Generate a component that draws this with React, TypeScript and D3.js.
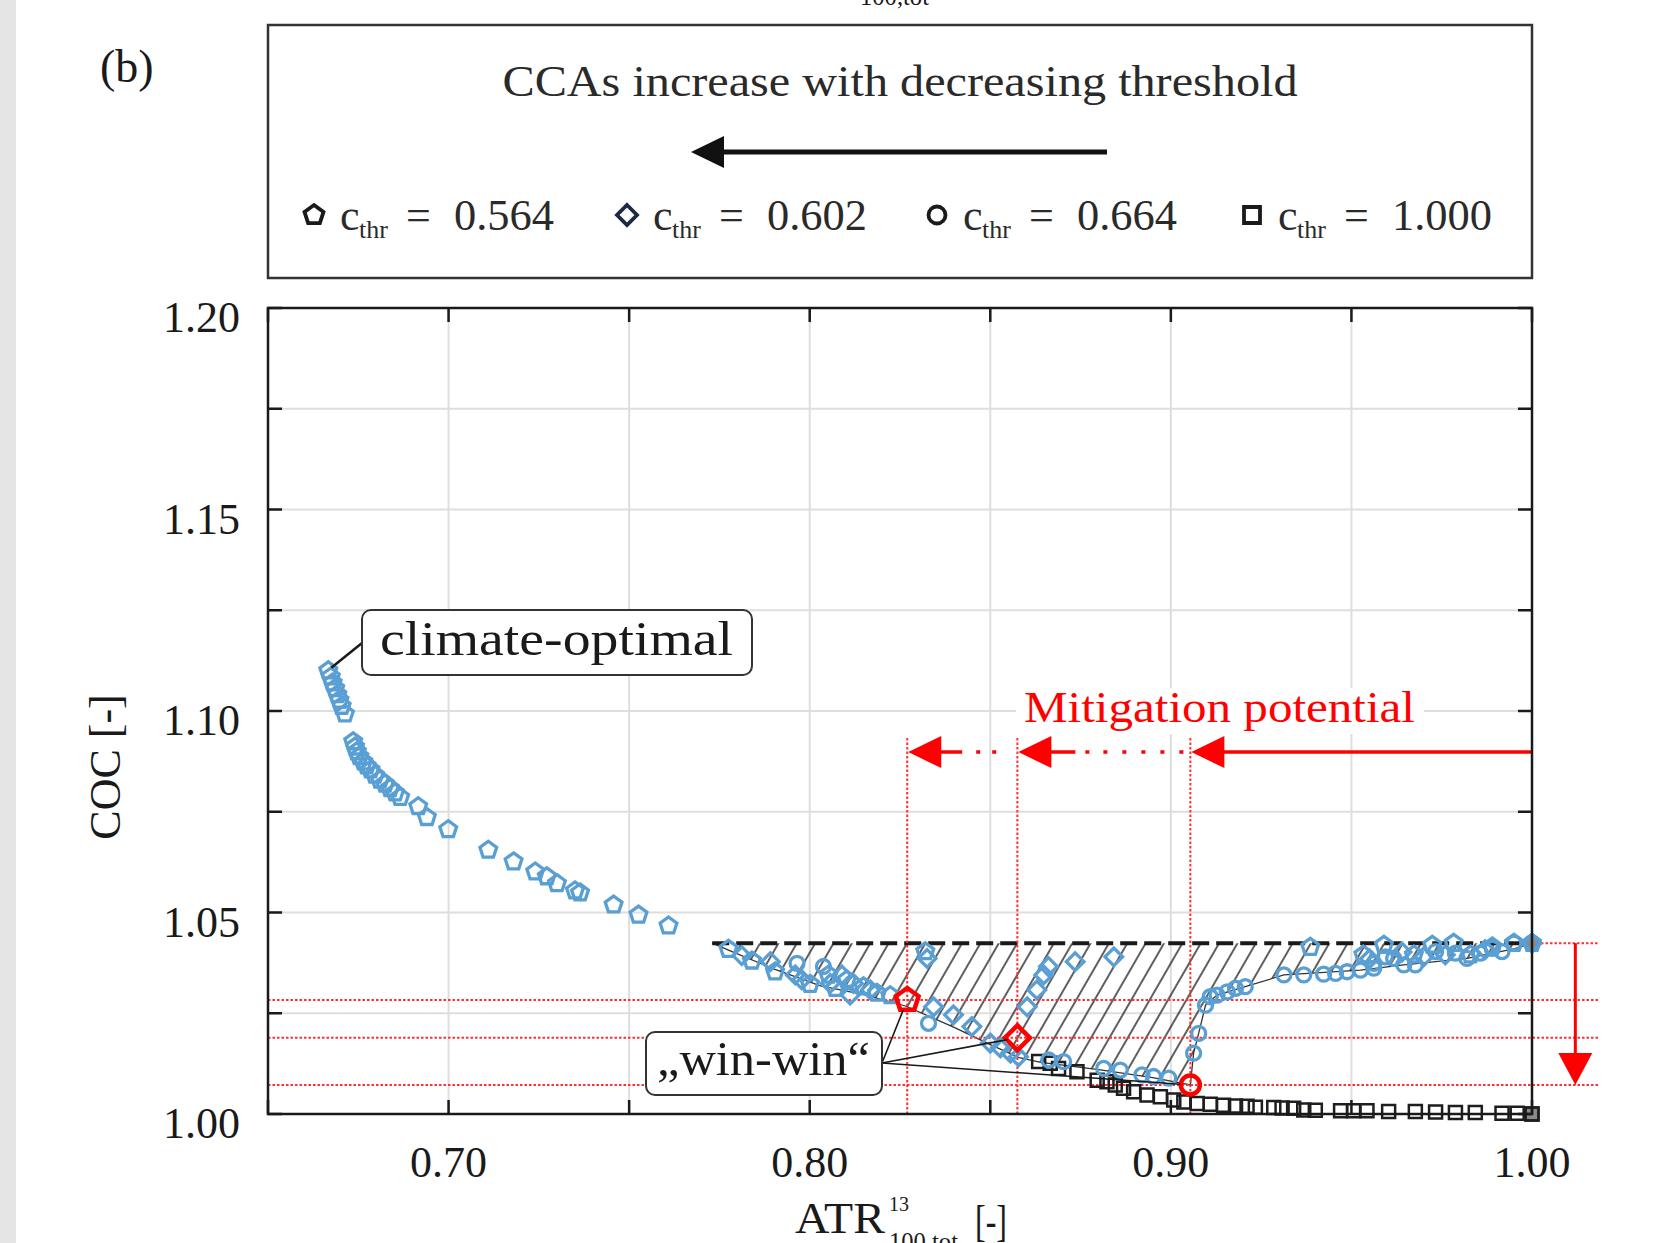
import React from "react";
import * as d3 from "d3";

// ---------------- data ----------------
const X_DOMAIN: [number, number] = [0.65, 1.0];
const Y_DOMAIN: [number, number] = [1.0, 1.2];
const X_TICKS = [0.65, 0.7, 0.75, 0.8, 0.85, 0.9, 0.95, 1.0];
const X_TICK_LABELS = [0.7, 0.8, 0.9, 1.0];
const Y_TICKS = [1.0, 1.025, 1.05, 1.075, 1.1, 1.125, 1.15, 1.175, 1.2];
const Y_TICK_LABELS = [1.0, 1.05, 1.1, 1.15, 1.2];

const LEGEND_SHAPES = ["pentagon", "diamond", "circle", "square"];
const LEGEND_VALUES = ["0.564", "0.602", "0.664", "1.000"];

// c_thr = 0.564
const PENTAGONS: [number, number][] = [
  [0.6667, 1.11], [0.6674, 1.1085], [0.6679, 1.107], [0.6686, 1.1056], [0.6692, 1.1041],
  [0.6698, 1.1027], [0.6704, 1.1012], [0.6713, 1.0993],
  [0.6736, 1.0924], [0.6741, 1.0911], [0.6746, 1.0899], [0.6753, 1.0887], [0.6764, 1.0874],
  [0.6773, 1.0864], [0.6784, 1.0854], [0.6796, 1.0841], [0.681, 1.0829], [0.6824, 1.0819],
  [0.6838, 1.0808], [0.6852, 1.0797], [0.6866, 1.0786],
  [0.6916, 1.0763], [0.694, 1.0736], [0.6999, 1.0706], [0.711, 1.0655], [0.718, 1.0626],
  [0.724, 1.0601], [0.7272, 1.0589], [0.73, 1.0572], [0.735, 1.0554], [0.7364, 1.0549],
  [0.7457, 1.0519], [0.7526, 1.0494], [0.7609, 1.0467],
  [0.7775, 1.0409], [0.784, 1.038], [0.7904, 1.0353], [0.8001, 1.0322], [0.8052, 1.0345],
  [0.8071, 1.0312], [0.8103, 1.0333], [0.8149, 1.0316], [0.8186, 1.03], [0.8223, 1.0294],
  [0.832, 1.0403],
  [0.9386, 1.0414], [0.9533, 1.0395], [0.959, 1.0419], [0.9673, 1.0395], [0.9724, 1.0419],
  [0.9783, 1.0424], [0.983, 1.0395], [0.989, 1.0415], [0.995, 1.0424], [1.0, 1.0424],
];

// c_thr = 0.602
const DIAMONDS: [number, number][] = [
  [0.7812, 1.0393], [0.7891, 1.0378], [0.796, 1.0345], [0.7978, 1.0333], [0.8057, 1.0324],
  [0.8089, 1.0345], [0.8112, 1.0295], [0.8121, 1.0324], [0.8168, 1.0308], [0.8325, 1.0386],
  [0.8343, 1.0266], [0.8398, 1.0246], [0.8449, 1.0217], [0.85, 1.0176], [0.8528, 1.0164],
  [0.8556, 1.0151], [0.8578, 1.0142],
  [0.8602, 1.0266], [0.8629, 1.0308], [0.8648, 1.0345], [0.8661, 1.0366], [0.8735, 1.0378],
  [0.8842, 1.039],
  [0.955, 1.0385], [0.964, 1.0402], [0.97, 1.039], [0.976, 1.0395], [0.987, 1.0408], [1.0, 1.0424],
];

// c_thr = 0.664
const CIRCLES: [number, number][] = [
  [0.7965, 1.0374], [0.8038, 1.0366], [0.8329, 1.0225],
  [0.8662, 1.0134], [0.8703, 1.013], [0.8814, 1.0113], [0.886, 1.0109], [0.892, 1.0097],
  [0.8952, 1.0093], [0.8994, 1.0089],
  [0.9063, 1.0151], [0.9077, 1.02], [0.9096, 1.027], [0.9109, 1.0291], [0.9128, 1.0295],
  [0.9156, 1.0303], [0.9179, 1.0312], [0.9206, 1.0316],
  [0.9313, 1.0345], [0.9368, 1.0345], [0.9423, 1.0347], [0.9456, 1.0349], [0.9488, 1.0353],
  [0.9525, 1.0357], [0.9562, 1.0374], [0.9562, 1.0362], [0.9594, 1.039], [0.9617, 1.0386],
  [0.9645, 1.037], [0.9677, 1.037], [0.9733, 1.0403], [0.9788, 1.0399], [0.982, 1.0386],
  [0.9857, 1.0399], [0.989, 1.0411], [0.9917, 1.0403], [0.995, 1.0424], [1.0, 1.0424],
];

// c_thr = 1.000
const SQUARES: [number, number][] = [
  [0.8634, 1.013], [0.8666, 1.0126], [0.8689, 1.0113], [0.874, 1.0105], [0.8796, 1.0084],
  [0.8823, 1.008], [0.8846, 1.0072], [0.8869, 1.0064], [0.8897, 1.0055], [0.8934, 1.0047],
  [0.8971, 1.0043], [0.9008, 1.0035], [0.9036, 1.003], [0.9073, 1.0026], [0.9109, 1.0024],
  [0.9146, 1.0022], [0.9179, 1.002], [0.9211, 1.0019], [0.9234, 1.0017], [0.9285, 1.0016],
  [0.9308, 1.0015], [0.934, 1.0014], [0.9368, 1.001], [0.94, 1.0009], [0.947, 1.0008],
  [0.9506, 1.0008], [0.9543, 1.0008], [0.9603, 1.0006], [0.9677, 1.0006], [0.9733, 1.0005],
  [0.9788, 1.0004], [0.9843, 1.0004], [0.9917, 1.0002], [0.9959, 1.0002], [1.0, 1.0],
];

// "win-win" points
const WIN_PENTAGON: [number, number] = [0.827, 1.0283];
const WIN_DIAMOND: [number, number] = [0.8575, 1.0189];
const WIN_CIRCLE: [number, number] = [0.9054, 1.0072];

const REFERENCE_COC = 1.0424;
const MITIGATION_ARROW_COC = 1.0898;
const DOWN_ARROW_ATR = 1.012;

// lower boundary of the hatched region
const HATCH_LOWER: [number, number][] = [
  [0.773, 1.0424], [0.778, 1.0405], [0.79, 1.036], [0.803, 1.0318], [0.815, 1.0296],
  [0.8265, 1.0268], [0.84, 1.0215], [0.85, 1.0172], [0.858, 1.014], [0.864, 1.0128],
  [0.88, 1.011], [0.895, 1.009], [0.9054, 1.0072], [0.9063, 1.0151], [0.9077, 1.02],
  [0.9096, 1.027], [0.9128, 1.0295], [0.9206, 1.0316], [0.9313, 1.0345], [0.9525, 1.0357],
  [0.9645, 1.037], [0.982, 1.0386], [0.995, 1.041], [1.0, 1.0424],
];

// ---------------- helpers ----------------
const FONT = "'Liberation Serif', 'DejaVu Serif', serif";
const BLUE = "#5a9fd4";
const RED = "#ff0000";
const DARK = "#1e1e1e";

function pentagonPath(r: number) {
  const pts = d3.range(5).map((k) => {
    const a = (-90 + 72 * k) * (Math.PI / 180);
    return [r * Math.cos(a), r * Math.sin(a)];
  });
  return "M" + pts.map((p) => p[0].toFixed(2) + "," + p[1].toFixed(2)).join("L") + "Z";
}
function diamondPath(r: number) {
  return `M0,${-r}L${r},0L0,${r}L${-r},0Z`;
}
function squarePath(r: number) {
  return `M${-r},${-r}L${r},${-r}L${r},${r}L${-r},${r}Z`;
}
function circlePath(r: number) {
  return `M${r},0A${r},${r} 0 1,1 ${-r},0A${r},${r} 0 1,1 ${r},0Z`;
}
function shapePath(shape: string, r: number) {
  if (shape === "pentagon") return pentagonPath(r);
  if (shape === "diamond") return diamondPath(r);
  if (shape === "circle") return circlePath(r);
  return squarePath(r);
}

function AtrLabel({ dx, dy }: { dx: number; dy: number }) {
  return (
    <g transform={`translate(${dx},${dy})`} fill="#1a1a1a" fontFamily={FONT}>
      <text x={795} y={1233} fontSize={45} textLength={90} lengthAdjust="spacingAndGlyphs">ATR</text>
      <text x={889} y={1211} fontSize={20}>13</text>
      <text x={889} y={1250} fontSize={25} textLength={69} lengthAdjust="spacingAndGlyphs">100,tot</text>
      <text x={975} y={1236} fontSize={44} textLength={32} lengthAdjust="spacingAndGlyphs">[-]</text>
    </g>
  );
}

export default function App() {
  const W = 1654;
  const H = 1243;
  const left = 268, right = 1532, top = 308, bottom = 1114;
  const x = d3.scaleLinear().domain(X_DOMAIN).range([left, right]);
  const y = d3.scaleLinear().domain(Y_DOMAIN).range([bottom, top]);
  const line = d3.line<[number, number]>().x((d) => x(d[0])).y((d) => y(d[1]));

  const hatchPath = line(HATCH_LOWER) + "Z";
  const lowerPath = line(HATCH_LOWER) || "";

  const arrowY = y(MITIGATION_ARROW_COC);
  const winXs = [WIN_PENTAGON[0], WIN_DIAMOND[0], WIN_CIRCLE[0]];
  const winYs = [WIN_PENTAGON[1], WIN_DIAMOND[1], WIN_CIRCLE[1]];

  const leftHead = (tx: number, ty: number, len = 33, half = 16) =>
    `M${tx},${ty}L${tx + len},${ty - half}L${tx + len},${ty + half}Z`;

  const wwBox = { x0: 646, y0: 1032, x1: 882, y1: 1095 };
  const wwAnchor: [number, number] = [wwBox.x1, 1063];
  const wwTargets: [number, number, number][] = [
    [x(WIN_PENTAGON[0]), y(WIN_PENTAGON[1]), 11],
    [x(WIN_DIAMOND[0]), y(WIN_DIAMOND[1]), 10],
    [x(WIN_CIRCLE[0]), y(WIN_CIRCLE[1]), 10],
  ];
  const leaderEnd = (t: [number, number, number]) => {
    const dxv = t[0] - wwAnchor[0], dyv = t[1] - wwAnchor[1];
    const L = Math.hypot(dxv, dyv);
    return [t[0] - (dxv / L) * t[2], t[1] - (dyv / L) * t[2]];
  };

  const coBox = { x0: 362, y0: 610, x1: 752, y1: 675 };
  const co0 = PENTAGONS[0];

  return (
    <svg
      width={W}
      height={H}
      viewBox={`0 0 ${W} ${H}`}
      style={{ position: "absolute", left: 0, top: 0, background: "#fff" }}
      fontFamily={FONT}
    >
      <defs>
        <pattern id="hatch" patternUnits="userSpaceOnUse" width={15.9} height={40} patternTransform="rotate(30)">
          <line x1={1} y1={0} x2={1} y2={40} stroke="#2a2a2a" strokeWidth={1.5} />
        </pattern>
        <clipPath id="plotClip">
          <rect x={left} y={top} width={right - left} height={bottom - top} />
        </clipPath>
      </defs>
      <rect x={0} y={0} width={W} height={H} fill="#ffffff" />
      <rect x={0} y={0} width={16} height={H} fill="#e5e5e5" />

      {/* cut-off label of the panel above */}
      <AtrLabel dx={-29} dy={-1245} />

      {/* (b) */}
      <text x={100} y={82} fontSize={46} fill="#1a1a1a">(b)</text>

      {/* legend box */}
      <rect x={268} y={25} width={1264} height={253} fill="#fff" stroke="#333" strokeWidth={2.5} />
      <text x={900} y={96} fontSize={44} textAnchor="middle" fill="#2a2a2a" textLength={795} lengthAdjust="spacingAndGlyphs">
        CCAs increase with decreasing threshold
      </text>
      <line x1={720} y1={152} x2={1107} y2={152} stroke="#111" strokeWidth={5} />
      <path d={leftHead(691, 152, 33, 16)} fill="#111" />
      {LEGEND_SHAPES.map((s, i) => {
        const mx = [314, 627, 937, 1252][i];
        return (
          <g key={s}>
            <path d={shapePath(s, s === "square" ? 8 : s === "circle" ? 8.5 : 10)} transform={`translate(${mx},${215})`}
              fill="none" stroke={s === "diamond" ? "#1b2a44" : "#1a1a1a"} strokeWidth={3.8} />
            <text x={mx + 26} y={230} fontSize={44} fill="#2a2a2a">c</text>
            <text x={mx + 45} y={238} fontSize={26} fill="#2a2a2a">thr</text>
            <text x={mx + 92} y={230} fontSize={44} fill="#2a2a2a">=</text>
            <text x={mx + 140} y={230} fontSize={44} fill="#2a2a2a" textLength={100} lengthAdjust="spacingAndGlyphs">{LEGEND_VALUES[i]}</text>
          </g>
        );
      })}

      {/* grid */}
      <g stroke="#dedede" strokeWidth={2}>
        {X_TICKS.map((t) => (
          <line key={"gx" + t} x1={x(t)} x2={x(t)} y1={top} y2={bottom} />
        ))}
        {Y_TICKS.map((t) => (
          <line key={"gy" + t} x1={left} x2={right} y1={y(t)} y2={y(t)} />
        ))}
      </g>

      {/* hatched region */}
      <g clipPath="url(#plotClip)">
        <path d={hatchPath} fill="url(#hatch)" stroke="none" />
        <path d={lowerPath} fill="none" stroke="#333" strokeWidth={1.3} />
        <line x1={x(HATCH_LOWER[0][0])} x2={x(1.0)} y1={y(REFERENCE_COC)} y2={y(REFERENCE_COC)}
          stroke="#1a1a1a" strokeWidth={4} strokeDasharray="17 7" />
      </g>

      {/* red dotted guides */}
      <g stroke="#ff3030" strokeWidth={2} strokeDasharray="2.5 2" fill="none">
        {winYs.map((v, i) => (
          <line key={"hr" + i} x1={left} x2={1598} y1={y(v)} y2={y(v)} />
        ))}
        <line x1={right} x2={1598} y1={y(REFERENCE_COC)} y2={y(REFERENCE_COC)} />
        {winXs.map((v, i) => (
          <line key={"vr" + i} x1={x(v)} x2={x(v)} y1={arrowY - 14} y2={bottom} />
        ))}
      </g>

      {/* mitigation potential arrows */}
      <g stroke={RED} strokeWidth={3.5} fill="none">
        <line x1={right} x2={x(winXs[2]) + 30} y1={arrowY} y2={arrowY} />
        <line x1={x(winXs[1]) + 30} x2={x(winXs[2])} y1={arrowY} y2={arrowY}
          strokeDasharray="28 10 4 14 4 15 4 15 4 15 4 15 4 40" />
        <line x1={x(winXs[0]) + 30} x2={x(winXs[1])} y1={arrowY} y2={arrowY}
          strokeDasharray="25 14 4 12 4 40" />
      </g>
      {winXs.map((v, i) => (
        <path key={"ah" + i} d={leftHead(x(v) + 1, arrowY, 33, 16)} fill={RED} />
      ))}
      <rect x={1016} y={688} width={408} height={46} fill="#fff" />
      <text x={1024} y={722} fontSize={44} fill={RED} textLength={391} lengthAdjust="spacingAndGlyphs">
        Mitigation potential
      </text>

      {/* down arrow at right */}
      <line x1={x(DOWN_ARROW_ATR)} x2={x(DOWN_ARROW_ATR)} y1={y(REFERENCE_COC)} y2={y(WIN_CIRCLE[1]) - 30}
        stroke={RED} strokeWidth={3} />
      <path
        d={`M${x(DOWN_ARROW_ATR)},${y(WIN_CIRCLE[1])}L${x(DOWN_ARROW_ATR) - 17},${y(WIN_CIRCLE[1]) - 32}L${x(DOWN_ARROW_ATR) + 17},${y(WIN_CIRCLE[1]) - 32}Z`}
        fill={RED}
      />

      {/* reference end points (filled) */}
      <circle cx={x(1.0)} cy={y(REFERENCE_COC)} r={8.5} fill="#8a8a8a" />
      <path d={squarePath(6.5)} transform={`translate(${x(1.0)},${y(1.0)})`} fill="#8a8a8a" stroke={DARK} strokeWidth={2.4} />

      {/* squares */}
      <g fill="none" stroke={DARK} strokeWidth={2.5}>
        {SQUARES.map((d, i) => (
          <path key={"s" + i} d={squarePath(6.5)} transform={`translate(${x(d[0])},${y(d[1])})`} />
        ))}
      </g>
      {/* blue series */}
      <g fill="none" stroke={BLUE} strokeWidth={3.3}>
        {CIRCLES.map((d, i) => (
          <path key={"c" + i} d={circlePath(7)} transform={`translate(${x(d[0])},${y(d[1])})`} />
        ))}
        {DIAMONDS.map((d, i) => (
          <path key={"d" + i} d={diamondPath(8.8)} transform={`translate(${x(d[0])},${y(d[1])})`} />
        ))}
        {PENTAGONS.map((d, i) => (
          <path key={"p" + i} d={pentagonPath(8.8)} transform={`translate(${x(d[0])},${y(d[1])})`} />
        ))}
      </g>

      {/* win-win markers */}
      <g fill="none" stroke={RED} strokeWidth={4.5}>
        <path d={pentagonPath(12)} transform={`translate(${x(WIN_PENTAGON[0])},${y(WIN_PENTAGON[1])})`} />
        <path d={diamondPath(12.5)} transform={`translate(${x(WIN_DIAMOND[0])},${y(WIN_DIAMOND[1])})`} />
        <path d={circlePath(9.5)} transform={`translate(${x(WIN_CIRCLE[0])},${y(WIN_CIRCLE[1])})`} />
      </g>

      {/* axes frame & ticks */}
      <g stroke="#1a1a1a" strokeWidth={2.5}>
        {X_TICKS.map((t) => (
          <g key={"tx" + t}>
            <line x1={x(t)} x2={x(t)} y1={bottom} y2={bottom - 14} />
            <line x1={x(t)} x2={x(t)} y1={top} y2={top + 14} />
          </g>
        ))}
        {Y_TICKS.map((t) => (
          <g key={"ty" + t}>
            <line x1={left} x2={left + 14} y1={y(t)} y2={y(t)} />
            <line x1={right} x2={right - 14} y1={y(t)} y2={y(t)} />
          </g>
        ))}
      </g>
      <rect x={left} y={top} width={right - left} height={bottom - top} fill="none" stroke="#1a1a1a" strokeWidth={2.5} />

      {/* tick labels */}
      <g fontSize={44} fill="#1a1a1a">
        {X_TICK_LABELS.map((t) => (
          <text key={"lx" + t} x={x(t)} y={bottom + 63} textAnchor="middle">{t.toFixed(2)}</text>
        ))}
        {Y_TICK_LABELS.map((t) => (
          <text key={"ly" + t} x={240} y={y(t) + 24} textAnchor="end">{t.toFixed(2)}</text>
        ))}
      </g>

      {/* axis labels */}
      <text transform="translate(120,767) rotate(-90)" textAnchor="middle" fontSize={44} fill="#1a1a1a">COC [-]</text>
      <AtrLabel dx={0} dy={0} />

      {/* climate-optimal annotation */}
      <line x1={x(co0[0]) + 3} y1={y(co0[1]) - 3} x2={coBox.x0} y2={643} stroke="#1a1a1a" strokeWidth={2.5} />
      <rect x={coBox.x0} y={coBox.y0} width={coBox.x1 - coBox.x0} height={coBox.y1 - coBox.y0} rx={9}
        fill="#fff" stroke="#333" strokeWidth={2} />
      <text x={380} y={655} fontSize={48} fill="#1a1a1a" textLength={353} lengthAdjust="spacingAndGlyphs">climate-optimal</text>

      {/* win-win annotation */}
      <g stroke="#1a1a1a" strokeWidth={1.6}>
        {wwTargets.map((t, i) => {
          const e = leaderEnd(t);
          return <line key={"ww" + i} x1={wwAnchor[0]} y1={wwAnchor[1]} x2={e[0]} y2={e[1]} />;
        })}
      </g>
      <rect x={wwBox.x0} y={wwBox.y0} width={wwBox.x1 - wwBox.x0} height={wwBox.y1 - wwBox.y0} rx={9}
        fill="#fff" stroke="#333" strokeWidth={2} />
      <text x={657} y={1075} fontSize={48} fill="#1a1a1a" textLength={213} lengthAdjust="spacingAndGlyphs">„win-win“</text>
    </svg>
  );
}
